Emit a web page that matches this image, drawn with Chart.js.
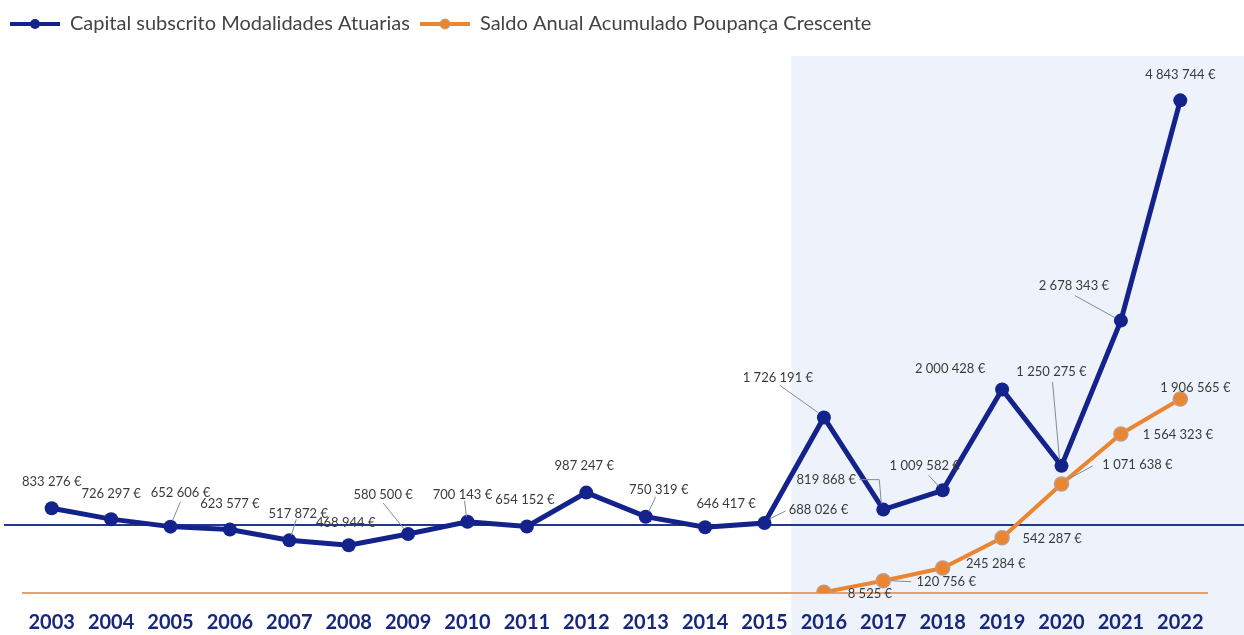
<!DOCTYPE html>
<html>
<head>
<meta charset="utf-8">
<script src="https://cdn.jsdelivr.net/npm/chart.js@4/dist/chart.umd.min.js"></script>
<style>
  html, body { margin: 0; padding: 0; background: #ffffff; }
  #wrap { width: 1244px; height: 635px; position: relative; }
</style>
</head>
<body>
<div id="wrap"><canvas id="chart"></canvas></div>
<script>
// data
const years = ['2003', '2004', '2005', '2006', '2007', '2008', '2009', '2010', '2011', '2012',
               '2013', '2014', '2015', '2016', '2017', '2018', '2019', '2020', '2021', '2022'];
const capitalSubscrito = [833276, 726297, 652606, 623577, 517872, 468944, 580500, 700143, 654152, 987247,
                          750319, 646417, 688026, 1726191, 819868, 1009582, 2000428, 1250275, 2678343, 4843744];
const saldoPoupanca = [null, null, null, null, null, null, null, null, null, null,
                       null, null, null, 8525, 120756, 245284, 542287, 1071638, 1564323, 1906565];
const seriesNames = ['Capital subscrito Modalidades Atuarias', 'Saldo Anual Acumulado Poupança Crescente'];
const blueRefValue = 670000;   // horizontal blue line
const yMax = 5280000;

// label placement (dx, dy from the point) and leader lines
const blueLabelPos = [[0,-26],[0,-25],[10,-34],[0,-26],[9,-27],[-3,-22],[-25,-39],[-5,-27],[-2,-27],[-2,-27],
                      [13,-27],[21,-23],[54,-13],[-46,-40],[-57,-30],[-18,-25],[-52,-21],[-10,-94],[-47,-35],[0,-26]];
const blueLeaders = {2: [[10,-25],[2,-6]], 4: [[7,-21],[2,-5]], 6: [[-25,-31],[-4,-5]], 7: [[-3,-21],[-1,-5]],
                     10: [[10,-20],[3,-5]], 12: [[21,-12],[5,-4]], 13: [[-44,-32],[-6,-5]],
                     14: [[-24,-30],[-4,-30],[-2,-6]], 15: [[-14,-15],[-4,-4]], 17: [[-9,-84],[-2,-6]],
                     18: [[-46,-25],[-6,-3]]};
const orangeLabelPos = {13: [46,2], 14: [63,1], 15: [53,-4], 16: [50,1], 17: [76,-19], 18: [57,1], 19: [15,-11]};
const orangeLeaders = {14: [[8,0],[28,1]], 17: [[7,-5],[31,-18]]};

const BLUE = '#14238c';
const ORANGE = '#ea8531';

function fmtEuro(v) {
    return v.toString().replace(/\B(?=(\d{3})+(?!\d))/g, ' ') + ' €';
}

function legendIcon(color, ring) {
    var c = document.createElement('canvas');
    c.width = 50; c.height = 14;
    var g = c.getContext('2d');
    g.strokeStyle = color; g.lineWidth = 4;
    g.beginPath(); g.moveTo(0, 7); g.lineTo(50, 7); g.stroke();
    g.fillStyle = color;
    g.beginPath(); g.arc(25, 7, 5, 0, Math.PI * 2); g.fill();
    if (ring) {
        g.strokeStyle = ring; g.lineWidth = 1;
        g.stroke();
    }
    return c;
}

const backdropPlugin = {
    id: 'backdrop',
    beforeInit: function(chart) {
        var fit = chart.legend.fit;
        chart.legend.fit = function() {
            fit.bind(chart.legend)();
            this.height += 12;
        };
    },
    beforeDraw: function(chart) {
        var ctx = chart.ctx;
        var x = chart.scales.x;
        var left = x.getPixelForValue(12.45);
        ctx.save();
        ctx.fillStyle = '#eef3fb';
        ctx.fillRect(left, chart.chartArea.top, chart.width - left, chart.height - chart.chartArea.top);
        ctx.restore();
    },
    beforeDatasetsDraw: function(chart) {
        var ctx = chart.ctx;
        var y = chart.scales.y;
        var area = chart.chartArea;
        ctx.save();
        ctx.lineWidth = 2;
        ctx.strokeStyle = '#22388f';
        var yb = Math.round(y.getPixelForValue(blueRefValue));
        ctx.beginPath(); ctx.moveTo(4, yb); ctx.lineTo(chart.width, yb); ctx.stroke();
        ctx.strokeStyle = '#e2a274';
        var yo = Math.round(y.getPixelForValue(0));
        ctx.beginPath(); ctx.moveTo(area.left, yo); ctx.lineTo(area.right - 2, yo); ctx.stroke();
        ctx.restore();
    },
    afterDatasetsDraw: function(chart) {
        var ctx = chart.ctx;
        ctx.save();
        ctx.font = '13px Lato';
        ctx.textAlign = 'center';
        ctx.textBaseline = 'middle';
        var drawSet = function(dsIndex, values, posFor, leaders) {
            var meta = chart.getDatasetMeta(dsIndex);
            meta.data.forEach(function(pt, i) {
                if (values[i] === null) return;
                var lead = leaders[i];
                if (lead) {
                    ctx.strokeStyle = '#7f8c99';
                    ctx.lineWidth = 1;
                    ctx.beginPath();
                    lead.forEach(function(p, k) {
                        if (k === 0) ctx.moveTo(pt.x + p[0], pt.y + p[1]);
                        else ctx.lineTo(pt.x + p[0], pt.y + p[1]);
                    });
                    ctx.stroke();
                }
                var off = posFor(i);
                ctx.fillStyle = '#3b3b3b';
                ctx.fillText(fmtEuro(values[i]), pt.x + off[0], pt.y + off[1]);
            });
        };
        drawSet(0, capitalSubscrito, function(i) { return blueLabelPos[i]; }, blueLeaders);
        drawSet(1, saldoPoupanca, function(i) { return orangeLabelPos[i]; }, orangeLeaders);
        ctx.restore();
    }
};

window.onload = function() {
    var chartConfig = {
        type: 'line',
        data: {
            labels: years,
            datasets: [{
                label: seriesNames[0],
                data: capitalSubscrito,
                borderColor: BLUE,
                backgroundColor: BLUE,
                borderWidth: 5,
                pointRadius: 7,
                pointBorderWidth: 0,
                pointStyle: 'circle',
                tension: 0
            }, {
                label: seriesNames[1],
                data: saldoPoupanca,
                borderColor: ORANGE,
                backgroundColor: ORANGE,
                borderWidth: 4,
                pointRadius: 7,
                pointBorderWidth: 1.5,
                pointBorderColor: '#c29b7e',
                tension: 0
            }]
        },
        options: {
            responsive: true,
            maintainAspectRatio: false,
            animation: false,
            layout: { padding: { left: 0, right: 34, top: 4, bottom: -18 } },
            scales: {
                x: {
                    offset: true,
                    grid: { display: false, drawTicks: false },
                    border: { display: false },
                    ticks: {
                        padding: 18,
                        color: '#17277a',
                        font: { family: 'Lato', size: 20, weight: 'bold' }
                    }
                },
                y: {
                    min: 0,
                    max: yMax,
                    grid: { display: false, drawTicks: false },
                    border: { display: false },
                    ticks: { display: false },
                    afterFit: function(s) { s.width = 22; }
                }
            },
            plugins: {
                tooltip: { enabled: false },
                legend: {
                    position: 'top',
                    align: 'start',
                    labels: {
                        usePointStyle: true,
                        pointStyleWidth: 50,
                        padding: 10,
                        color: '#444444',
                        font: { family: 'Lato', size: 20 },
                        generateLabels: function(chart) {
                            return chart.data.datasets.map(function(ds, i) {
                                return {
                                    text: ds.label,
                                    pointStyle: legendIcon(ds.borderColor, i === 1 ? '#c29b7e' : null),
                                    fillStyle: ds.borderColor,
                                    strokeStyle: ds.borderColor,
                                    lineWidth: 0,
                                    fontColor: '#444444',
                                    datasetIndex: i
                                };
                            });
                        }
                    }
                }
            }
        },
        plugins: [backdropPlugin]
    };
    var ctx = document.getElementById('chart').getContext('2d');
    new Chart(ctx, chartConfig);
};
</script>
</body>
</html>
